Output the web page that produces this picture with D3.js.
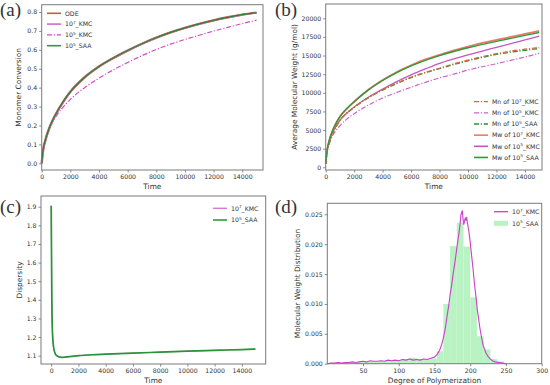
<!DOCTYPE html>
<html>
<head>
<meta charset="utf-8">
<script src="https://cdn.jsdelivr.net/npm/d3@7"></script>
<style>
body { margin: 0; background: #fff; }
text { font-family: "DejaVu Sans", sans-serif; fill: #333; }
</style>
</head>
<body>
<svg></svg>
<script>
// (a) monomer conversion
var timeA = [0, 100, 250, 500, 750, 1000, 1500, 2000, 3000, 4000, 5000, 6000, 7000, 8000, 9000, 10000, 11000, 12000, 13000, 14000, 15000];
var convODE = [0, 0.070, 0.120, 0.180, 0.225, 0.262, 0.325, 0.378, 0.455, 0.512, 0.557, 0.596, 0.632, 0.664, 0.692, 0.716, 0.737, 0.756, 0.772, 0.786, 0.797];
var convKMC7 = [0, 0.068, 0.119, 0.179, 0.224, 0.261, 0.324, 0.377, 0.454, 0.511, 0.556, 0.595, 0.631, 0.663, 0.691, 0.715, 0.736, 0.755, 0.771, 0.785, 0.795];
var convKMC5 = [0, 0.068, 0.119, 0.178, 0.218, 0.248, 0.298, 0.338, 0.400, 0.450, 0.494, 0.533, 0.569, 0.602, 0.630, 0.655, 0.677, 0.699, 0.719, 0.739, 0.757];
var convSAA = [0, 0.072, 0.121, 0.181, 0.226, 0.262, 0.326, 0.378, 0.455, 0.512, 0.557, 0.596, 0.632, 0.664, 0.692, 0.716, 0.737, 0.756, 0.772, 0.786, 0.796];

// (b) average molecular weight
var timeB = timeA;
var mnKMC7 = [450, 2100, 3300, 4600, 5500, 6300, 7300, 8050, 9350, 10400, 11300, 12100, 12750, 13300, 13900, 14400, 14850, 15250, 15600, 15850, 16100];
var mnKMC5 = [450, 2000, 3100, 4300, 5000, 5600, 6500, 7200, 8350, 9300, 10050, 10750, 11400, 12000, 12500, 13050, 13500, 13900, 14350, 14800, 15300];
var mnSAA = [450, 2100, 3300, 4600, 5500, 6300, 7300, 8050, 9350, 10350, 11250, 12050, 12700, 13250, 13800, 14300, 14750, 15150, 15450, 15700, 15950];
var mwKMC7 = [500, 2300, 3600, 5000, 6000, 6800, 7900, 8800, 10400, 11700, 12800, 13700, 14500, 15100, 15700, 16200, 16700, 17100, 17500, 17900, 18300];
var mwKMC5 = [500, 2200, 3400, 4700, 5600, 6300, 7300, 8100, 9400, 10500, 11500, 12400, 13200, 13950, 14550, 15100, 15600, 16100, 16600, 17100, 17600];
var mwSAA = [500, 2300, 3600, 5000, 6000, 6800, 7900, 8800, 10400, 11650, 12700, 13600, 14350, 15000, 15550, 16050, 16500, 16900, 17300, 17700, 18100];

// (c) dispersity
var timeC = [0, 15, 40, 80, 150, 250, 400, 600, 800, 1000, 1500, 2000, 3000, 4000, 5000, 6000, 8000, 10000, 12000, 14000, 15000];
var dispKMC7 = [1.905, 1.72, 1.45, 1.25, 1.16, 1.12, 1.100, 1.093, 1.091, 1.092, 1.096, 1.100, 1.105, 1.108, 1.111, 1.114, 1.119, 1.124, 1.129, 1.133, 1.135];
var dispSAA = [1.905, 1.72, 1.45, 1.25, 1.16, 1.12, 1.100, 1.093, 1.091, 1.092, 1.096, 1.100, 1.105, 1.108, 1.111, 1.114, 1.119, 1.124, 1.129, 1.133, 1.136];

// (d) molecular weight distribution
var dpKMC = [0, 5, 10, 15, 20, 25, 30, 35, 40, 45, 50, 55, 60, 65, 70, 75, 80, 85, 90, 95, 100, 105, 110, 115, 120, 125, 130, 135, 140, 145, 150, 154, 157, 160, 162, 164, 166, 168, 170, 172, 174, 176, 178, 180, 182, 184, 186, 187, 188, 189, 190, 191, 192, 193, 194, 195, 196, 198, 200, 202, 204, 206, 208, 210, 212, 214, 216, 218, 220, 222, 225, 228, 231, 235, 240, 245, 250];
var mwdKMC = [0.0000, 0.0001, 0.0001, 0.0002, 0.0001, 0.0002, 0.0002, 0.0003, 0.0002, 0.0003, 0.0004, 0.0003, 0.0005, 0.0004, 0.0004, 0.0005, 0.0004, 0.0006, 0.0005, 0.0006, 0.0005, 0.0007, 0.0006, 0.0008, 0.0006, 0.0007, 0.0006, 0.0008, 0.0007, 0.0009, 0.0011, 0.0016, 0.0022, 0.0032, 0.0041, 0.0052, 0.0066, 0.0083, 0.0098, 0.0117, 0.0131, 0.0150, 0.0165, 0.0182, 0.0200, 0.0216, 0.0236, 0.0249, 0.0253, 0.0256, 0.0241, 0.0233, 0.0238, 0.0244, 0.0240, 0.0245, 0.0236, 0.0222, 0.0203, 0.0180, 0.0158, 0.0133, 0.0112, 0.0090, 0.0072, 0.0056, 0.0043, 0.0031, 0.0024, 0.0018, 0.0012, 0.0008, 0.0005, 0.0003, 0.0002, 0.0001, 0.0000];
var binLeft = [2.6, 12.0, 21.4, 30.8, 40.2, 49.6, 59.0, 68.4, 77.8, 87.2, 96.6, 106.0, 115.4, 124.8, 134.2, 143.6, 153.0, 162.4, 171.8, 181.2, 190.6, 200.0, 209.4, 218.8, 228.2, 237.6, 247.0];
var binHeight = [0.0001, 0.0001, 0.0002, 0.0002, 0.0003, 0.0003, 0.0004, 0.0004, 0.0004, 0.0005, 0.0006, 0.0008, 0.0010, 0.0008, 0.0007, 0.0009, 0.0021, 0.0100, 0.0197, 0.0236, 0.0196, 0.0111, 0.0046, 0.0024, 0.0008, 0.0004, 0.0001];
var binWidth = 9.4;

var timeTicks = [0, 2000, 4000, 6000, 8000, 10000, 12000, 14000];
var convTicks = [0, 0.1, 0.2, 0.3, 0.4, 0.5, 0.6, 0.7, 0.8];
var mwTicks = [0, 2500, 5000, 7500, 10000, 12500, 15000, 17500, 20000];
var dispTicks = [1.1, 1.2, 1.3, 1.4, 1.5, 1.6, 1.7, 1.8, 1.9];
var dpTicks = [50, 100, 150, 200, 250, 300];
var mwdTicks = [0, 0.005, 0.010, 0.015, 0.020, 0.025];

var svg = d3.select('svg')
    .attr('width', 550)
    .attr('height', 385);

function zip(xs, ys) { return xs.map(function (v, i) { return [v, ys[i]]; }); }

function panel(o) {
    var x = d3.scaleLinear().domain(o.xd).range([o.l, o.r]);
    var y = d3.scaleLinear().domain(o.yd).range([o.b, o.t]);
    var g = svg.append('g');

    var xa = g.append('g')
        .attr('transform', 'translate(0,' + o.b + ')')
        .call(d3.axisBottom(x).tickValues(o.xt).tickFormat(o.xf).tickSize(2.5).tickPadding(2));
    var ya = g.append('g')
        .attr('transform', 'translate(' + o.l + ',0)')
        .call(d3.axisLeft(y).tickValues(o.yt).tickFormat(o.yf).tickSize(2.5).tickPadding(2));
    [xa, ya].forEach(function (a) {
        a.select('.domain').remove();
        a.selectAll('line').attr('stroke', '#555').attr('stroke-width', 0.7);
        a.selectAll('text').style('font-size', '6.2px').attr('fill', '#333');
    });

    g.append('text')
        .attr('x', (o.l + o.r) / 2)
        .attr('y', o.b + 19)
        .attr('text-anchor', 'middle')
        .style('font-size', '7.4px')
        .text(o.xl);
    g.append('text')
        .attr('transform', 'translate(' + o.ylx + ',' + (o.t + o.b) / 2 + ') rotate(-90)')
        .attr('text-anchor', 'middle')
        .style('font-size', '7.4px')
        .text(o.yl);

    g.append('text')
        .attr('x', o.px)
        .attr('y', o.py)
        .style('font-family', '"Liberation Serif", serif')
        .style('font-size', '19px')
        .attr('fill', '#111')
        .text(o.tag);

    var plot = g.append('g');
    g.append('rect')
        .attr('x', o.l).attr('y', o.t)
        .attr('width', o.r - o.l).attr('height', o.b - o.t)
        .attr('fill', 'none')
        .attr('stroke', '#7a7a7a')
        .attr('stroke-width', 1);
    return { x: x, y: y, g: plot, top: g };
}

function curve(p, pts, color, w, dash, smooth) {
    var line = d3.line()
        .x(function (d) { return p.x(d[0]); })
        .y(function (d) { return p.y(d[1]); });
    if (smooth !== false) line.curve(d3.curveMonotoneX);
    p.g.append('path')
        .datum(pts)
        .attr('d', line)
        .attr('fill', 'none')
        .attr('stroke', color)
        .attr('stroke-width', w)
        .attr('stroke-dasharray', dash || null)
        .attr('stroke-linejoin', 'round');
}

// "10^7_KMC" -> 10 with a raised 7
function label(sel, s) {
    var m = s.match(/^(.*?10)\^(\d)(.*)$/);
    if (!m) { sel.text(s); return; }
    sel.append('tspan').text(m[1]);
    sel.append('tspan').attr('dy', -2.2).style('font-size', '4.3px').text(m[2]);
    sel.append('tspan').attr('dy', 2.2).text(m[3]);
}

function legend(p, x0, y0, step, items) {
    items.forEach(function (it, i) {
        var yy = y0 + i * step;
        if (it.patch) {
            p.top.append('rect')
                .attr('x', x0).attr('y', yy - 2.5)
                .attr('width', 14).attr('height', 5)
                .attr('fill', it.color);
        } else {
            p.top.append('line')
                .attr('x1', x0).attr('x2', x0 + 14)
                .attr('y1', yy).attr('y2', yy)
                .attr('stroke', it.color)
                .attr('stroke-width', it.w || 1.4)
                .attr('stroke-dasharray', it.dash || null);
        }
        var t = p.top.append('text')
            .attr('x', x0 + 18)
            .attr('y', yy + 2.2)
            .style('font-size', '6.2px');
        label(t, it.label);
    });
}

var DASHDOT = '5,1.8,1.2,1.8';

// ---- (a)
var pa = panel({ l: 41.7, r: 263, t: 4.7, b: 170, xd: [0, 15450], yd: [-0.0354, 0.8386],
    xt: timeTicks, yt: convTicks, xf: d3.format('d'), yf: d3.format('.1f'),
    xl: 'Time', yl: 'Monomer Conversion', ylx: 21, tag: '(a)', px: 0, py: 16 });
curve(pa, zip(timeA, convODE), '#c0603e', 2.4);
curve(pa, zip(timeA, convKMC7), '#d47ad0', 1.6);
curve(pa, zip(timeA, convKMC5), '#d24cc6', 1.2, DASHDOT);
curve(pa, zip(timeA, convSAA), '#2a7f33', 1.2);
legend(pa, 47, 13.3, 10.8, [
    { label: 'ODE', color: '#c0603e', w: 1.6 },
    { label: '10^7_KMC', color: '#d47ad0', w: 1.8 },
    { label: '10^5_KMC', color: '#d24cc6', dash: DASHDOT, w: 1.2 },
    { label: '10^5_SAA', color: '#2f9a3e', w: 1.6 }
]);

// ---- (b)
var pb = panel({ l: 325.7, r: 542, t: 4, b: 170, xd: [0, 15200], yd: [-362, 21919],
    xt: timeTicks, yt: mwTicks, xf: d3.format('d'), yf: d3.format('d'),
    xl: 'Time', yl: 'Average Molecular Weight (g/mol)', ylx: 297, tag: '(b)', px: 275, py: 16 });
curve(pb, zip(timeB, mwKMC5), '#c656c4', 1.3);
curve(pb, zip(timeB, mnKMC5), '#c865c6', 1.2, DASHDOT);
curve(pb, zip(timeB, mnSAA), '#2f8f3a', 1.3, DASHDOT);
curve(pb, zip(timeB, mnKMC7), '#e0643e', 1.2, DASHDOT);
curve(pb, zip(timeB, mwKMC7), '#eb7a64', 1.8);
curve(pb, zip(timeB, mwSAA), '#2c9a3a', 1.4);
legend(pb, 474, 101.7, 11.15, [
    { label: 'Mn of 10^7_KMC', color: '#e0643e', dash: DASHDOT, w: 1.3 },
    { label: 'Mn of 10^5_KMC', color: '#c865c6', dash: DASHDOT, w: 1.3 },
    { label: 'Mn of 10^5_SAA', color: '#2f8f3a', dash: DASHDOT, w: 1.3 },
    { label: 'Mw of 10^7_KMC', color: '#eb7a64', w: 1.6 },
    { label: 'Mw of 10^5_KMC', color: '#c656c4', w: 1.6 },
    { label: 'Mw of 10^5_SAA', color: '#2c9a3a', w: 1.6 }
]);

// ---- (c)
var pc = panel({ l: 41, r: 265.7, t: 196, b: 364, xd: [-750, 15750], yd: [1.0554, 1.9575],
    xt: timeTicks, yt: dispTicks, xf: d3.format('d'), yf: d3.format('.1f'),
    xl: 'Time', yl: 'Dispersity', ylx: 22, tag: '(c)', px: 0, py: 213 });
curve(pc, zip(timeC, dispKMC7), '#d47ad0', 1.0);
curve(pc, zip(timeC, dispSAA), '#2a9438', 1.7);
legend(pc, 213, 208.3, 11.7, [
    { label: '10^7_KMC', color: '#d47ad0', w: 1.4 },
    { label: '10^5_SAA', color: '#2c9a3a', w: 1.6 }
]);

// ---- (d)
var pd = panel({ l: 327.3, r: 541.7, t: 203.3, b: 363.7, xd: [0, 300], yd: [0, 0.02684],
    xt: dpTicks, yt: mwdTicks, xf: d3.format('d'), yf: d3.format('.3f'),
    xl: 'Degree of Polymerization', yl: 'Molecular Weight Distribution', ylx: 300, tag: '(d)', px: 275, py: 213 });
pd.g.selectAll('rect.bin')
    .data(binLeft)
    .enter().append('rect')
    .attr('class', 'bin')
    .attr('x', function (d) { return pd.x(d); })
    .attr('width', function (d) { return pd.x(d + binWidth) - pd.x(d); })
    .attr('y', function (d, i) { return pd.y(binHeight[i]); })
    .attr('height', function (d, i) { return pd.y(0) - pd.y(binHeight[i]); })
    .attr('fill', '#b9f2c3');
curve(pd, zip(dpKMC, mwdKMC), '#cc3fc8', 1.1, null, false);
legend(pd, 494, 211.7, 11.6, [
    { label: '10^7_KMC', color: '#cc3fc8', w: 1.3 },
    { label: '10^5_SAA', color: '#b9f2c3', patch: true }
]);
</script>
</body>
</html>
